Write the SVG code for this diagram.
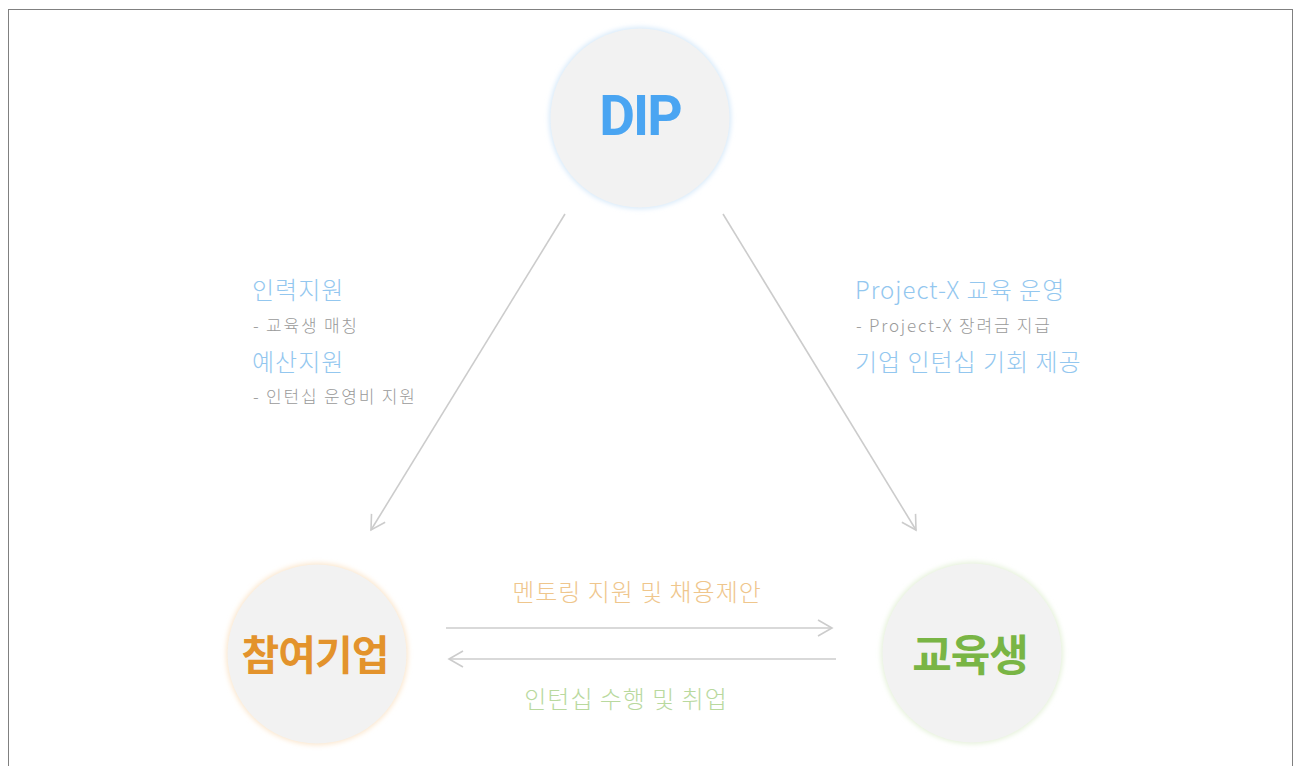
<svg xmlns="http://www.w3.org/2000/svg" width="1295" height="766" viewBox="0 0 1295 766">
<style>
.kr{font-family:"Noto Sans CJK KR","Noto Sans",sans-serif}
.title{font-weight:700}
.lbl{font-size:24px;font-weight:300;letter-spacing:1px}
.sub{font-size:17px;font-weight:300;fill:#9a9a9a;letter-spacing:1.8px}
.blue{fill:#93c7ef}
.conn{stroke:#cccccc;stroke-width:1.6;fill:none;marker-end:url(#arr)}
.node{fill:#f2f2f2}
</style>
<defs>
<marker id="arr" viewBox="0 0 20 20" refX="17" refY="10" markerWidth="20" markerHeight="20" markerUnits="userSpaceOnUse" orient="auto">
<path d="M3,2 L17,10 L3,18" fill="none" stroke="#cccccc" stroke-width="1.6"/>
</marker>
<filter id="glow" x="-20%" y="-20%" width="140%" height="140%">
<feGaussianBlur stdDeviation="2.5"/>
</filter>
</defs>
<rect x="8.5" y="9.5" width="1284" height="780" fill="none" stroke="#000" stroke-width="1" stroke-dasharray="1 1"/>
<g id="connectors">
<line class="conn" x1="565" y1="214" x2="371" y2="530"/>
<line class="conn" x1="723" y1="214" x2="916" y2="530"/>
<line class="conn" x1="446" y1="628" x2="832" y2="628"/>
<line class="conn" x1="836" y1="659" x2="449" y2="659"/>
</g>
<g id="node-dip">
<circle cx="640" cy="118" r="91" fill="#d6e9fa" filter="url(#glow)"/>
<circle class="node" cx="640" cy="118" r="89.5"/>
<text x="640" y="135" text-anchor="middle" font-family="Roboto,'Noto Sans',sans-serif" font-weight="700" font-size="55" letter-spacing="-2" fill="#4aa5f2">DIP</text>
</g>
<g id="node-company">
<circle cx="317" cy="654" r="91" fill="#fbe6cc" filter="url(#glow)"/>
<circle class="node" cx="317" cy="654" r="89.5"/>
<text class="kr title" x="315" y="670" text-anchor="middle" font-size="41" letter-spacing="-1" fill="#e3932c">참여기업</text>
</g>
<g id="node-student">
<circle cx="972" cy="653" r="91" fill="#e4f1d8" filter="url(#glow)"/>
<circle class="node" cx="972" cy="653" r="89.5"/>
<text class="kr title" x="970" y="671" text-anchor="middle" font-size="43" letter-spacing="-1" fill="#79b545">교육생</text>
</g>
<g id="label-left">
<text class="kr lbl blue" x="252" y="299">인력지원</text>
<text class="kr sub" x="253" y="332">- 교육생 매칭</text>
<text class="kr lbl blue" x="252" y="371">예산지원</text>
<text class="kr sub" x="253" y="403">- 인턴십 운영비 지원</text>
</g>
<g id="label-right">
<text class="kr lbl blue" x="855" y="299">Project-X 교육 운영</text>
<text class="kr sub" x="856" y="332">- Project-X 장려금 지급</text>
<text class="kr lbl blue" x="855" y="371">기업 인턴십 기회 제공</text>
</g>
<g id="label-bottom">
<text class="kr lbl" x="637" y="601" text-anchor="middle" fill="#efc68c">멘토링 지원 및 채용제안</text>
<text class="kr lbl" x="626" y="708" text-anchor="middle" fill="#b9d99e">인턴십 수행 및 취업</text>
</g>
</svg>
